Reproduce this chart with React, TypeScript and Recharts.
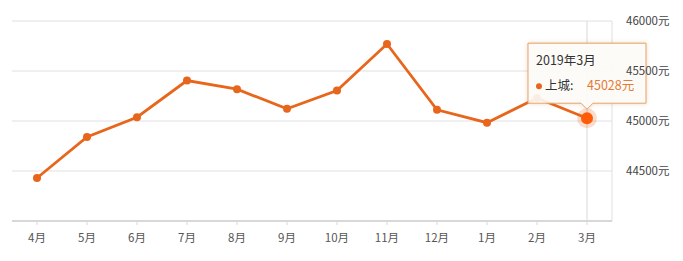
import React from 'react';
import { LineChart, Line, XAxis, YAxis, CartesianGrid, ReferenceLine } from 'recharts';

const periods = [
  '2018年4月', '2018年5月', '2018年6月', '2018年7月', '2018年8月', '2018年9月',
  '2018年10月', '2018年11月', '2018年12月', '2019年1月', '2019年2月', '2019年3月',
];
const monthTicks = ['4月', '5月', '6月', '7月', '8月', '9月', '10月', '11月', '12月', '1月', '2月', '3月'];
const seriesName = '上城';
const prices = [44430, 44840, 45038, 45405, 45318, 45122, 45305, 45770, 45112, 44983, 45230, 45028];
const yTicks = [44500, 45000, 45500, 46000];
const unit = '元';
const highlightIndex = 11;

const data = periods.map((p, i) => ({ period: p, month: monthTicks[i], price: prices[i] }));

const LINE = '#e8661c';
const FONT = '"Noto Sans CJK SC", "Noto Sans", sans-serif';

const renderDot = (props: any) => {
  const { cx, cy, index, payload } = props;
  if (index !== highlightIndex) {
    return <circle key={`d${index}`} cx={cx} cy={cy} r={4} fill={LINE} stroke="none" />;
  }
  const l = cx - 59;
  const r = cx + 59;
  const t = cy - 75;
  const b = cy - 15;
  const path = `M${l},${t} H${r} V${b} H${cx + 6} L${cx},${b + 6} L${cx - 6},${b} H${l} Z`;
  return (
    <g key={`d${index}`}>
      <circle cx={cx} cy={cy} r={10} fill={LINE} fillOpacity={0.22} />
      <circle cx={cx} cy={cy} r={6} fill="#ff5c0a" />
      <path
        d={path}
        fill="rgba(255,255,255,0.88)"
        stroke="#e2a468"
        strokeWidth={1}
        style={{ filter: 'drop-shadow(0 0 2px rgba(200,120,40,0.3))' }}
      />
      <text x={l + 8} y={t + 18} fontSize={12.5} fill="#333" fontFamily={FONT} dominantBaseline="middle">
        {payload.period}
      </text>
      <circle cx={l + 11} cy={t + 43} r={3} fill={LINE} />
      <text x={l + 17} y={t + 43} fontSize={12.5} fill="#333" fontFamily={FONT} dominantBaseline="middle">
        {seriesName}:
      </text>
      <text x={cx} y={t + 43} fontSize={12.5} fill="#e57a35" fontFamily={FONT} dominantBaseline="middle">
        {payload.price}
        {unit}
      </text>
    </g>
  );
};

export default function App() {
  return (
    <div style={{ position: 'absolute', left: 0, top: 0, background: '#fff' }}>
      <LineChart
        width={683}
        height={261}
        data={data}
        margin={{ top: 21, right: 11, bottom: 10, left: 12 }}
        style={{ fontFamily: FONT }}
      >
        <CartesianGrid
          stroke="#e0e0e0"
          horizontal
          vertical
          verticalCoordinatesGenerator={({ offset }: any) => [offset.left + offset.width]}
          horizontalValues={yTicks}
        />
        <XAxis
          dataKey="month"
          height={30}
          padding={{ left: 25, right: 25 }}
          axisLine={{ stroke: '#d8d8d8', strokeWidth: 2 }}
          tickLine={{ stroke: '#d8d8d8' }}
          tickSize={4}
          tickMargin={9}
          tick={{ fontSize: 11.5, fill: '#555' }}
          interval={0}
        />
        <YAxis
          orientation="right"
          width={60}
          domain={[44000, 46000]}
          ticks={yTicks}
          axisLine={false}
          tickLine={false}
          tickMargin={8}
          tick={{ fontSize: 11.5, fill: '#444', textAnchor: 'start' }}
          tickFormatter={(v: number) => `${v}${unit}`}
        />
        <ReferenceLine x={monthTicks[highlightIndex]} stroke="#d8d8d8" strokeWidth={1} />
        <Line
          type="linear"
          dataKey="price"
          stroke={LINE}
          strokeWidth={2.8}
          dot={renderDot}
          activeDot={false}
          isAnimationActive={false}
        />
      </LineChart>
    </div>
  );
}
